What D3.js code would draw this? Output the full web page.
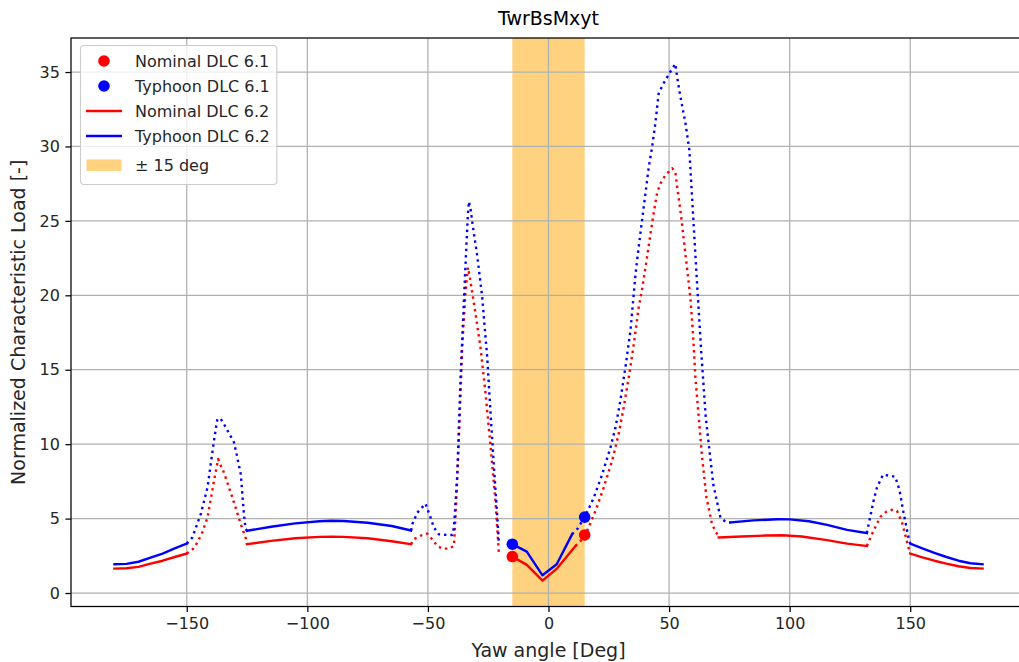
<!DOCTYPE html>
<html>
<head>
<meta charset="utf-8">
<script src="https://cdn.jsdelivr.net/npm/d3@7"></script>
<style>
  html, body { margin: 0; padding: 0; background: #ffffff; }
  svg { display: block; font-family: "DejaVu Sans", sans-serif; }
</style>
</head>
<body>
<svg id="chart" width="1019" height="662"></svg>
<script>
// Yaw sweep of the normalized tower-base bending load (TwrBsMxyt)
const chartTitle = "TwrBsMxyt";
const xLabel = "Yaw angle [Deg]";
const yLabel = "Normalized Characteristic Load [-]";

// DLC 6.2, nominal wind
const nominalYaw = [
  -180, -175, -170, -165, -160, -155, -150,
  -147.5, -145.6, -143.5, -141.4, -138.7, -137, -136.2, -134.6, -131.1, -127.6, -125.6,
  -125, -115, -105, -95, -90, -85, -75, -65, -57,
  -55.9, -53, -50.3, -48.2, -46.1, -44.1, -41.3, -39.2, -38.5, -37.2, -35.8, -34.4, -33.4, -32.6, -30.3, -28.2, -26.1, -24, -22, -20.6,
  -15, -9, -2.5, 3.6, 11.2,
  13.3, 15.3, 19.5, 22.9, 26.4, 29.1, 31.2, 33.3, 35.4, 37.4, 38.8, 40.9, 42.3, 43.6, 45, 46.4, 48.5, 51.3, 52.6, 53, 55, 56.9, 58.8, 60, 60.9, 62.3, 63.7, 65.5, 67.8, 70.6,
  80, 90, 97, 105, 115.5, 123.8, 132,
  134.1, 137.6, 140, 142.4, 144.5, 146.6, 149.3, 150,
  155, 160, 165, 170, 175, 180
];
const nominalLoad = [
  1.64, 1.66, 1.76, 1.97, 2.17, 2.42, 2.65,
  2.95, 3.39, 4.1, 5.07, 7.54, 9.0, 8.67, 8.1, 6.42, 4.63, 3.72,
  3.28, 3.5, 3.68, 3.77, 3.78, 3.77, 3.68, 3.48, 3.28,
  3.61, 3.85, 3.99, 3.61, 3.16, 2.98, 2.98, 3.16, 5.3, 10.2, 16.5, 20.3, 21.87, 21.2, 18.8, 16.5, 13.4, 9.8, 6.2, 2.71,
  2.45, 1.89, 0.83, 1.66, 3.16,
  3.5, 3.9, 5.52, 7.09, 8.89, 10.69, 12.48, 14.5, 16.75, 19.2, 20.4, 22.6, 24.15, 25.5, 26.85, 27.5, 28.08, 28.53, 28.3, 27.74, 25.3, 22.6, 19.9, 17.2, 14.5, 11.8, 9.1, 6.42, 4.62, 3.73,
  3.8, 3.86, 3.88, 3.8, 3.55, 3.32, 3.16,
  3.95, 5.12, 5.45, 5.59, 5.52, 4.73, 3.05, 2.65,
  2.4, 2.17, 1.97, 1.8, 1.68, 1.64
];
// yaw ranges where the nominal curve is drawn solid, and where it is interrupted
const nominalSolid = [[-180, -150], [-125, -57], [-15, 11.2], [70.6, 132], [150, 180]];
const nominalGaps = [[-20.6, -15]];

// DLC 6.2, typhoon wind
const typhoonYaw = [
  -180, -175, -170, -165, -160, -155, -150,
  -147.7, -144.2, -141.4, -138.7, -137.3, -135.9, -134.6, -130.4, -127.6, -126.3, -125.6,
  -125, -115, -105, -95, -90, -85, -75, -65, -57,
  -56.5, -54.4, -51, -48.9, -47.5, -45.5, -42, -39.9, -39.2, -37.8, -36.5, -34.4, -33.4, -33, -32.3, -31.6, -29.5, -27.5, -25.4, -24, -22.7, -21.3, -20.6,
  -15, -9, -2.5, 3.4, 9.8,
  11.9, 15.3, 18.8, 22.3, 25.7, 27.8, 29.8, 31.9, 34, 36.1, 37.4, 38.8, 40.2, 41.6, 43, 44.3, 45.7, 47.8, 50.6, 52.6, 53.3, 54.7, 56.8, 58.4, 60, 61.6, 63.3, 65.2, 66.8, 68.3, 71.3, 73.3, 75.4,
  85, 95, 100, 108, 115.5, 123.8, 132,
  133.2, 134.8, 136.2, 138.7, 141.4, 143.8, 145.6, 147.2, 149.3, 150,
  155, 160, 165, 170, 175, 180
];
const typhoonLoad = [
  1.93, 1.96, 2.1, 2.38, 2.65, 3.0, 3.32,
  3.72, 5.3, 7.09, 10.24, 11.7, 11.7, 11.36, 10.12, 7.99, 5.3, 4.29,
  4.18, 4.45, 4.68, 4.82, 4.85, 4.84, 4.72, 4.5, 4.2,
  4.62, 5.4, 6.0, 5.07, 4.4, 3.95, 3.9, 3.9, 4.4, 8.0, 14.3, 22.1, 25.5, 26.3, 25.8, 24.9, 22.6, 19.9, 15.8, 12.0, 8.67, 5.3, 3.39,
  3.28, 2.78, 1.19, 1.93, 3.95,
  4.29, 5.18, 6.42, 7.99, 9.78, 11.13, 12.93, 15.17, 17.64, 21.46, 23.25, 25.05, 26.85, 28.64, 29.99, 31.56, 33.58, 34.26, 35.04, 35.55, 34.7, 33.35, 31.56, 29.76, 25.27, 20.8, 16.3, 11.8, 9.5, 7.32, 5.07, 4.8, 4.74,
  4.88, 4.96, 4.95, 4.82, 4.58, 4.24, 4.03,
  4.96, 6.2, 7.09, 7.95, 7.88, 7.81, 6.87, 5.41, 3.72, 3.32,
  3.0, 2.7, 2.42, 2.17, 2.0, 1.93
];
const typhoonSolid = [[-180, -150], [-125, -57], [-15, 9.8], [75.4, 132], [150, 180]];
const typhoonGaps = [[-20.6, -15]];

// DLC 6.1 single points
const dlc61Yaw = [-15, 15];
const nominal61 = [2.45, 3.9];
const typhoon61 = [3.28, 5.1];

// yaw sector around the wind direction
const sectorBounds = [-15, 15];

const xTicks = [-150, -100, -50, 0, 50, 100, 150];
const yTicks = [0, 5, 10, 15, 20, 25, 30, 35];

const legendLabels = ["Nominal DLC 6.1", "Typhoon DLC 6.1", "Nominal DLC 6.2", "Typhoon DLC 6.2", "\u00b1 15 deg"];

// ---------------------------------------------------------------------------
const W = 1019, H = 662;
const plot = { left: 71, right: 1026, top: 38, bottom: 606.5 };
const RED = "#ff0000", BLUE = "#0000ff", ORANGE = "#ffa500";

const svg = d3.select("#chart");

const allYaw = nominalYaw.concat(typhoonYaw);
const allLoad = nominalLoad.concat(typhoonLoad, nominal61, typhoon61);
const [xMin, xMax] = d3.extent(allYaw);
const [yMin, yMax] = d3.extent(allLoad);
const xPad = (xMax - xMin) * 0.05, yPad = (yMax - yMin) * 0.05;

const x = d3.scaleLinear().domain([xMin - xPad, xMax + xPad]).range([plot.left, plot.right]);
const y = d3.scaleLinear().domain([yMin - yPad, yMax + yPad]).range([plot.bottom, plot.top]);

svg.append("defs").append("clipPath").attr("id", "plotClip")
  .append("rect")
  .attr("x", plot.left).attr("y", plot.top)
  .attr("width", plot.right - plot.left).attr("height", plot.bottom - plot.top);

// yaw sector band
svg.append("rect")
  .attr("x", x(sectorBounds[0]))
  .attr("y", plot.top)
  .attr("width", x(sectorBounds[1]) - x(sectorBounds[0]))
  .attr("height", plot.bottom - plot.top)
  .attr("fill", ORANGE).attr("fill-opacity", 0.5);

// grid
const grid = svg.append("g").attr("stroke", "#b0b0b0").attr("stroke-width", 1.25);
grid.selectAll("line.gx").data(xTicks).join("line")
  .attr("x1", d => x(d)).attr("x2", d => x(d))
  .attr("y1", plot.top).attr("y2", plot.bottom);
grid.selectAll("line.gy").data(yTicks).join("line")
  .attr("x1", plot.left).attr("x2", plot.right)
  .attr("y1", d => y(d)).attr("y2", d => y(d));

// DLC 6.1 points (beneath the curves)
const pts = svg.append("g").attr("clip-path", "url(#plotClip)");
pts.selectAll("circle.nom").data(dlc61Yaw.map((v, i) => [v, nominal61[i]])).join("circle")
  .attr("cx", d => x(d[0])).attr("cy", d => y(d[1])).attr("r", 5.8).attr("fill", RED);
pts.selectAll("circle.typ").data(dlc61Yaw.map((v, i) => [v, typhoon61[i]])).join("circle")
  .attr("cx", d => x(d[0])).attr("cy", d => y(d[1])).attr("r", 5.8).attr("fill", BLUE);

// split a curve into solid and dotted runs
function runs(yaw, load, solid, gaps) {
  const out = [];
  for (let i = 0; i < yaw.length - 1; i++) {
    const a = yaw[i], b = yaw[i + 1];
    if (gaps.some(([g0, g1]) => a >= g0 && b <= g1)) continue;
    const style = solid.some(([s0, s1]) => a >= s0 && b <= s1) ? "solid" : "dotted";
    const last = out[out.length - 1];
    if (last && last.style === style && last.end === i) {
      last.pts.push([b, load[i + 1]]);
      last.end = i + 1;
    } else {
      out.push({ style, end: i + 1, pts: [[a, load[i]], [b, load[i + 1]]] });
    }
  }
  return out;
}

const line = d3.line().x(d => x(d[0])).y(d => y(d[1]));
const curves = svg.append("g").attr("clip-path", "url(#plotClip)")
  .attr("fill", "none").attr("stroke-width", 2.4);

[[nominalYaw, nominalLoad, nominalSolid, nominalGaps, RED],
 [typhoonYaw, typhoonLoad, typhoonSolid, typhoonGaps, BLUE]].forEach(([yw, ld, so, gp, col]) => {
  runs(yw, ld, so, gp).forEach(r => {
    curves.append("path")
      .attr("d", line(r.pts))
      .attr("stroke", col)
      .attr("stroke-linejoin", "round")
      .attr("stroke-linecap", r.style === "solid" ? "square" : "butt")
      .attr("stroke-dasharray", r.style === "dotted" ? "2.4,3.96" : null);
  });
});

// spines
svg.append("rect")
  .attr("x", plot.left).attr("y", plot.top)
  .attr("width", plot.right - plot.left).attr("height", plot.bottom - plot.top)
  .attr("fill", "none").attr("stroke", "#000").attr("stroke-width", 1.25);

// axes
const fmt = d => (d < 0 ? "\u2212" + Math.abs(d) : String(d));
const xAxis = d3.axisBottom(x).tickValues(xTicks).tickFormat(fmt).tickSize(5.6).tickPadding(5.6);
const yAxis = d3.axisLeft(y).tickValues(yTicks).tickFormat(fmt).tickSize(5.6).tickPadding(5.6);

const gx = svg.append("g").attr("transform", `translate(0,${plot.bottom})`).call(xAxis);
const gy = svg.append("g").attr("transform", `translate(${plot.left},0)`).call(yAxis);
[gx, gy].forEach(g => {
  g.select(".domain").remove();
  g.selectAll(".tick line").attr("stroke", "#000").attr("stroke-width", 1.25);
  g.selectAll(".tick text").attr("fill", "#262626")
    .style("font-family", "DejaVu Sans").style("font-size", "16px");
});

// titles
svg.append("text").attr("x", (plot.left + plot.right) / 2).attr("y", 25)
  .attr("text-anchor", "middle").attr("font-size", 19).attr("fill", "#000").text(chartTitle);
svg.append("text").attr("x", (plot.left + plot.right) / 2).attr("y", 657)
  .attr("text-anchor", "middle").attr("font-size", 19).attr("fill", "#262626").text(xLabel);
svg.append("text")
  .attr("transform", `translate(25,${(plot.top + plot.bottom) / 2}) rotate(-90)`)
  .attr("text-anchor", "middle").attr("font-size", 19).attr("fill", "#262626").text(yLabel);

// legend
const leg = svg.append("g");
const legX = 80.5, legY = 45.5;
const rowY = [61, 86, 111, 136, 165];
const textX = 135;
const frame = leg.append("rect")
  .attr("x", legX).attr("y", legY).attr("rx", 3.5).attr("ry", 3.5)
  .attr("height", 139)
  .attr("fill", "#fff").attr("fill-opacity", 0.8)
  .attr("stroke", "#cccccc").attr("stroke-width", 1.1);

leg.append("circle").attr("cx", 104).attr("cy", rowY[0]).attr("r", 5.8).attr("fill", RED);
leg.append("circle").attr("cx", 104).attr("cy", rowY[1]).attr("r", 5.8).attr("fill", BLUE);
leg.append("line").attr("x1", 86).attr("x2", 122).attr("y1", rowY[2]).attr("y2", rowY[2])
  .attr("stroke", RED).attr("stroke-width", 2.4);
leg.append("line").attr("x1", 86).attr("x2", 122).attr("y1", rowY[3]).attr("y2", rowY[3])
  .attr("stroke", BLUE).attr("stroke-width", 2.4);
leg.append("rect").attr("x", 86.5).attr("y", rowY[4] - 5.5).attr("width", 35).attr("height", 11.5)
  .attr("fill", ORANGE).attr("fill-opacity", 0.5);

let maxW = 0;
legendLabels.forEach((t, i) => {
  const node = leg.append("text").attr("x", textX).attr("y", rowY[i])
    .attr("dy", "0.35em").attr("font-size", 16).attr("fill", "#262626").text(t);
  maxW = Math.max(maxW, node.node().getComputedTextLength());
});
frame.attr("width", textX + maxW + 7 - legX);
</script>
</body>
</html>
